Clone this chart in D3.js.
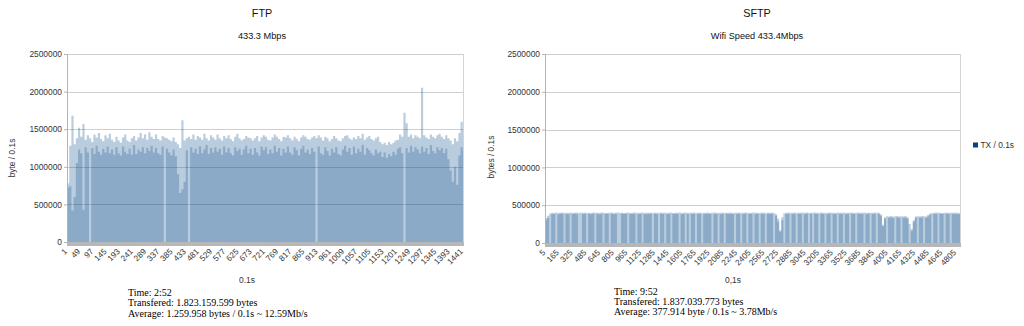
<!DOCTYPE html>
<html>
<head>
<meta charset="utf-8">
<script src="https://cdn.jsdelivr.net/npm/d3@7"></script>
<style>
  body { margin: 0; background: #fff; }
  svg { display: block; }
  text { font-family: "Liberation Sans", Arial, sans-serif; }
  .note { font-family: "Liberation Serif", "Times New Roman", serif; font-size: 10px; fill: #000; }
</style>
</head>
<body>
<svg id="chart" width="1024" height="326"></svg>
<script>
// ---- FTP transfer: TX bytes per 0.1 s, grouped 8 samples per bin (values in thousands of bytes)
const ftpSamples = 1441;
const ftpBinSize = 8;
const ftpPeakK = [
  780,1280,1680,1300,1380,1520,1400,1570,1360,1420,
  1380,1330,1430,1390,1450,1370,1340,1420,1380,1440,
  1360,1330,1400,1350,1320,1390,1430,1350,1330,1380,
  1410,1350,1390,1450,1380,1430,1360,1460,1400,1370,
  1430,1370,1350,1410,1390,1380,1360,1340,1390,1330,
  1300,1250,1620,1350,1380,1400,1370,1430,1360,1410,
  1390,1360,1440,1380,1350,1420,1390,1360,1430,1380,
  1350,1410,1380,1420,1370,1340,1400,1440,1380,1350,
  1370,1410,1390,1380,1350,1380,1410,1340,1390,1420,
  1400,1360,1350,1390,1430,1400,1370,1340,1400,1390,
  1420,1380,1350,1400,1370,1340,1390,1420,1400,1370,
  1360,1390,1410,1380,1420,1390,1350,1400,1380,1340,
  1370,1410,1380,1350,1340,1380,1410,1420,1380,1360,
  1390,1370,1410,1380,1440,1360,1390,1410,1370,1350,
  1380,1400,1330,1300,1320,1290,1330,1300,1320,1350,
  1360,1430,1400,1720,1580,1400,1430,1380,1420,1400,
  1380,2050,1420,1390,1370,1430,1400,1380,1420,1440,
  1400,1370,1420,1380,1350,1300,1380,1340,1450,1600,1500
];
const ftpFloorK = [
  720,740,420,600,1050,1230,1180,430,1260,1190,
  0,1250,1170,1280,1200,1160,1240,1190,1270,1180,
  1230,1160,1260,1180,1150,1270,1200,1170,1240,1160,
  1290,1170,1230,1200,1260,1180,1250,1210,1280,1190,
  1250,1180,1160,1270,0,1240,1190,1150,1230,1140,
  900,650,700,800,1220,0,1260,1190,1240,1170,
  1270,1180,1230,1290,1170,1250,1190,1260,1200,1240,
  1160,1270,1190,1250,1180,1150,1260,1210,1240,1160,
  1230,1280,1180,1240,1160,1250,1190,1150,1270,1220,
  1260,1170,1230,1180,1280,1200,1250,1150,1240,1190,
  1270,1190,1160,1260,1220,1150,1240,1280,1190,1230,
  1170,1250,1200,0,1270,1180,1160,1260,1210,1150,
  1240,1190,1260,1170,1150,1230,1280,1200,1250,1160,
  1270,1180,1240,1200,1290,1160,1250,1220,1180,1150,
  1230,1180,1200,1130,1190,1120,1170,1140,1200,1160,
  1240,1260,1180,0,1250,1190,1280,1200,1260,1230,
  1180,1270,1200,1250,1170,1290,1210,1180,1260,1220,
  1250,1180,1240,1100,950,800,1000,760,1150,1260,1220
];
const ftpTickLabels = [1,49,97,145,193,241,289,337,385,433,481,529,577,625,673,721,
  769,817,865,913,961,1009,1057,1105,1153,1201,1249,1297,1345,1393,1441];

// ---- SFTP transfer: TX bytes per 0.1 s, grouped 24 samples per bin (values in thousands of bytes)
const sftpSamples = 4848;
const sftpBinSize = 24;
const sftpPeakK = [
  330,360,390,400,398,402,396,400,404,398,
  400,396,402,398,400,404,397,401,399,403,
  398,400,396,402,399,401,397,403,400,398,
  401,399,403,397,400,402,398,401,396,400,
  402,398,400,404,399,397,401,403,398,400,
  399,401,397,402,400,398,403,399,401,397,
  400,402,398,401,399,403,397,400,402,398,
  401,399,403,398,400,402,397,401,399,404,
  398,400,402,399,397,401,403,398,400,399,
  402,398,400,401,403,397,399,402,400,398,
  400,403,399,401,398,402,400,397,401,399,
  402,398,380,320,170,340,395,400,402,398,
  400,402,398,401,403,399,400,402,397,401,
  399,403,400,398,402,401,397,400,403,399,
  401,398,402,400,399,403,398,401,400,402,
  398,400,403,399,401,402,397,400,398,401,
  402,399,400,380,240,340,355,352,356,350,
  354,357,352,355,350,356,340,250,185,300,
  352,355,350,356,353,351,370,390,398,400,
  402,399,401,398,400,403,397,401,399,402,
  400,398
];
const sftpFloorK = [
  300,330,0,380,385,0,378,386,382,0,
  384,380,0,383,386,380,0,0,385,382,
  0,384,381,386,0,383,380,385,0,382,
  384,0,385,381,383,0,0,386,382,384,
  0,382,385,384,0,380,383,0,385,381,
  384,386,0,383,381,0,385,382,0,380,
  383,0,384,386,382,0,381,385,0,383,
  0,384,382,0,385,383,0,381,386,384,
  382,0,385,383,0,380,384,0,386,382,
  385,383,0,382,384,0,381,386,0,383,
  382,0,385,383,0,384,381,0,385,382,
  384,0,360,280,150,300,0,383,385,0,
  383,381,0,385,384,0,382,386,0,383,
  0,385,382,0,384,383,0,381,386,0,
  384,382,0,385,383,0,381,384,0,386,
  383,0,385,382,384,0,380,386,0,383,
  385,0,382,360,220,320,0,335,338,332,
  0,336,334,0,335,338,320,0,160,280,
  334,0,337,335,0,333,350,375,0,382,
  384,0,383,385,0,382,386,0,384,381,
  383,380
];
const sftpTickLabels = [5,165,325,485,645,805,965,1125,1285,1445,1605,1765,1925,2085,
  2245,2405,2565,2725,2885,3045,3205,3365,3525,3685,3845,4005,4165,4325,4485,4645,4805];

const yTicks = [0, 500000, 1000000, 1500000, 2000000, 2500000];
const seriesName = "TX / 0.1s";
const seriesColor = "#004586";

const svg = d3.select("#chart");

function drawPanel(p) {
  const g = svg.append("g");
  const x = d3.scaleLinear().domain([0.5, p.samples + 0.5]).range([p.left, p.right]);
  const y = d3.scaleLinear().domain([0, 2500000]).range([p.bottom, p.top]);

  // horizontal gridlines
  g.append("g").selectAll("line").data(yTicks).join("line")
    .attr("x1", p.left).attr("x2", p.right)
    .attr("y1", d => Math.round(y(d)) + 0.5).attr("y2", d => Math.round(y(d)) + 0.5)
    .attr("stroke", "#cfcfcf").attr("stroke-width", 1);

  // right frame
  g.append("line")
    .attr("x1", p.right + 0.5).attr("x2", p.right + 0.5)
    .attr("y1", p.top).attr("y2", p.bottom)
    .attr("stroke", "#d4d4d4");

  // binned bars: peak layer and floor layer, semi-transparent
  const bins = p.peaks.map((v, i) => ({ start: i * p.binSize + 1, peak: v * 1000, floor: p.floors[i] * 1000 }));
  const end = { start: p.samples + 1, peak: bins[bins.length - 1].peak, floor: bins[bins.length - 1].floor };
  const pts = bins.concat([end]);
  const area = key => d3.area()
    .curve(d3.curveStepAfter)
    .x(d => x(d.start - 0.5))
    .y0(y(0))
    .y1(d => y(d[key]));
  g.append("path").datum(pts).attr("d", area("peak"))
    .attr("fill", seriesColor).attr("fill-opacity", 0.27);
  g.append("path").datum(pts).attr("d", area("floor"))
    .attr("fill", seriesColor).attr("fill-opacity", 0.25);

  // y axis
  const ya = g.append("g")
    .attr("transform", `translate(${p.left},0)`)
    .call(d3.axisLeft(y).tickValues(yTicks).tickFormat(d3.format("d")).tickSize(3).tickPadding(2));
  ya.select(".domain").attr("stroke", "#b3b3b3");
  ya.selectAll(".tick line").attr("stroke", "#b3b3b3");
  ya.selectAll("text").attr("font-size", 8.4).attr("fill", "#333")
    .attr("font-family", "Liberation Sans, Arial, sans-serif");

  // category tick marks (one per sample)
  const tb = g.append("g")
    .attr("transform", `translate(0,${p.bottom})`)
    .call(d3.axisBottom(x).tickValues(d3.range(1, p.samples + 1)).tickSize(4).tickFormat(""));
  tb.select(".domain").remove();
  tb.selectAll(".tick line").attr("stroke", "#b8b8b8");

  // category labels
  const xa = g.append("g")
    .attr("transform", `translate(0,${p.bottom})`)
    .call(d3.axisBottom(x).tickValues(p.tickLabels).tickSize(0).tickFormat(d3.format("d")));
  xa.select(".domain").remove();
  xa.selectAll("text")
    .attr("y", 0).attr("dy", null).attr("x", 0)
    .attr("text-anchor", "end")
    .attr("transform", "translate(0,10) rotate(-45)")
    .attr("font-size", 8.2).attr("fill", "#333")
    .attr("font-family", "Liberation Sans, Arial, sans-serif");

  // titles
  g.append("text").attr("x", p.titleX).attr("y", 16.5).attr("text-anchor", "middle")
    .attr("font-size", 10.8).attr("fill", "#111").text(p.title);
  g.append("text").attr("x", p.titleX).attr("y", 38.5).attr("text-anchor", "middle")
    .attr("font-size", 9.2).attr("fill", "#111").text(p.subtitle);

  // axis titles
  g.append("text")
    .attr("transform", `translate(${p.yTitleX},${p.yTitleY}) rotate(-90)`)
    .attr("text-anchor", "middle").attr("font-size", 8.4).attr("fill", "#333").text(p.yTitle);
  g.append("text").attr("x", p.xTitleX).attr("y", 283).attr("text-anchor", "middle")
    .attr("font-size", 8.4).attr("fill", "#333").text(p.xTitle);

  // summary notes
  g.append("g").selectAll("text").data(p.notes).join("text")
    .attr("class", "note")
    .attr("x", p.noteX)
    .attr("y", (d, i) => p.noteY + i * 10.3)
    .text(d => d);
}

drawPanel({
  left: 67, right: 463, top: 54, bottom: 242,
  samples: ftpSamples, binSize: ftpBinSize, peaks: ftpPeakK, floors: ftpFloorK,
  tickLabels: ftpTickLabels,
  title: "FTP", subtitle: "433.3 Mbps", titleX: 262,
  yTitle: "byte / 0.1s", yTitleX: 15, yTitleY: 158,
  xTitle: "0.1s", xTitleX: 247,
  notes: ["Time: 2:52", "Transfered: 1.823.159.599 bytes", "Average: 1.259.958 bytes / 0.1s ~ 12.59Mb/s"],
  noteX: 128, noteY: 296
});

drawPanel({
  left: 545, right: 960, top: 54, bottom: 243,
  samples: sftpSamples, binSize: sftpBinSize, peaks: sftpPeakK, floors: sftpFloorK,
  tickLabels: sftpTickLabels,
  title: "SFTP", subtitle: "Wifi Speed 433.4Mbps", titleX: 757,
  yTitle: "bytes / 0.1s", yTitleX: 494, yTitleY: 157,
  xTitle: "0,1s", xTitleX: 733,
  notes: ["Time: 9:52", "Transfered: 1.837.039.773 bytes", "Average: 377.914 byte / 0.1s ~ 3.78Mb/s"],
  noteX: 614, noteY: 294.5
});

// legend
const lg = svg.append("g").attr("transform", "translate(973,142.5)");
lg.append("rect").attr("width", 5).attr("height", 5).attr("fill", seriesColor);
lg.append("text").attr("x", 7.5).attr("y", 5).attr("font-size", 8.4).attr("fill", "#333").text(seriesName);
</script>
</body>
</html>
